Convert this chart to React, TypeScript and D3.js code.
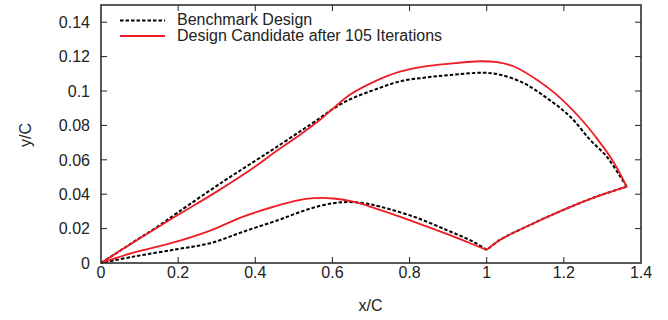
import React from "react";
import * as d3 from "d3";

const xTicks = [0, 0.2, 0.4, 0.6, 0.8, 1, 1.2, 1.4];
const yTicks = [0, 0.02, 0.04, 0.06, 0.08, 0.1, 0.12, 0.14];
const xTickLabels = ["0", "0.2", "0.4", "0.6", "0.8", "1", "1.2", "1.4"];
const yTickLabels = ["0", "0.02", "0.04", "0.06", "0.08", "0.1", "0.12", "0.14"];

const seriesNames = ["Benchmark Design", "Design Candidate after 105 Iterations"];

// Benchmark: upper surface (leading edge -> trailing edge)
const benchUpperX = [
  0, 0.05, 0.1, 0.144, 0.2, 0.317, 0.404, 0.451, 0.516, 0.568, 0.598, 0.646, 0.71, 0.775, 0.84, 0.905, 0.991,
  1.034, 1.095, 1.156, 1.216, 1.268, 1.311, 1.346, 1.363,
];
const benchUpperY = [
  0, 0.0072, 0.0145, 0.0207, 0.0295, 0.0474, 0.06, 0.0668, 0.0765, 0.0843, 0.0891, 0.0952, 0.1008, 0.1056, 0.1078, 0.1093, 0.1106,
  0.1095, 0.1047, 0.0959, 0.0852, 0.0716, 0.0619, 0.0503, 0.0444,
];
// Benchmark: rear lower surface (trailing edge -> cusp at x=1)
const benchRearX = [1.363, 1.285, 1.199, 1.112, 1.034, 1.0];
const benchRearY = [0.0444, 0.0386, 0.0309, 0.0221, 0.0134, 0.0076];
// Benchmark: front lower surface (cusp -> leading edge)
const benchFrontX = [1.0, 0.965, 0.896, 0.81, 0.723, 0.68, 0.637, 0.602, 0.551, 0.507, 0.46, 0.369, 0.283, 0.196, 0.084, 0];
const benchFrontY = [0.0076, 0.0124, 0.0192, 0.027, 0.0328, 0.0348, 0.0354, 0.0348, 0.0322, 0.0289, 0.025, 0.0182, 0.0115, 0.008, 0.0037, 0];

// Candidate after 105 iterations
const candUpperX = [
  0, 0.05, 0.1, 0.2, 0.3, 0.4, 0.451, 0.516, 0.568, 0.598, 0.646, 0.71, 0.775, 0.84, 0.905, 0.983, 1.026,
  1.069, 1.13, 1.181, 1.242, 1.285, 1.328, 1.363,
];
const candUpperY = [
  0, 0.0072, 0.0142, 0.028, 0.0415, 0.0561, 0.0645, 0.0746, 0.0833, 0.0891, 0.0979, 0.1056, 0.1112, 0.1143, 0.1159, 0.1173, 0.1168,
  0.1144, 0.1066, 0.0979, 0.0843, 0.0726, 0.059, 0.0444,
];
const candRearX = [1.363, 1.285, 1.199, 1.112, 1.034, 1.0];
const candRearY = [0.0444, 0.0386, 0.0309, 0.0221, 0.0134, 0.0076];
const candFrontX = [1.0, 0.957, 0.896, 0.81, 0.723, 0.654, 0.602, 0.551, 0.507, 0.455, 0.369, 0.283, 0.196, 0.084, 0];
const candFrontY = [0.0076, 0.0115, 0.0169, 0.0241, 0.0309, 0.0357, 0.0375, 0.0377, 0.0363, 0.0332, 0.027, 0.0188, 0.0124, 0.006, 0];

const W = 668;
const H = 320;
const left = 101;
const right = 641;
const top = 5;
const bottom = 263;
const FONT = "'Liberation Sans', Arial, Helvetica, sans-serif";
const TXT = "#222";
const FS = 16;
const RED = "#ee1c24";

const zip = (xs: number[], ys: number[]): [number, number][] => xs.map((v, i) => [v, ys[i]]);

export default function App() {
  const x = d3.scaleLinear().domain([0, 1.4]).range([left, right]);
  const y = d3.scaleLinear().domain([0, 0.15]).range([bottom, top]);
  const line = d3
    .line<[number, number]>()
    .x((d) => x(d[0]))
    .y((d) => y(d[1]))
    .curve(d3.curveCatmullRom.alpha(0.5));
  const benchPaths = [
    zip(benchUpperX, benchUpperY),
    zip(benchRearX, benchRearY),
    zip(benchFrontX, benchFrontY),
  ];
  const candPaths = [
    zip(candUpperX, candUpperY),
    zip(candRearX, candRearY),
    zip(candFrontX, candFrontY),
  ];
  const tl = 6;

  return (
    <svg
      width={W}
      height={H}
      style={{ position: "absolute", left: 0, top: 0, background: "#fff" }}
      fontFamily={FONT}
    >
      <rect x={0} y={0} width={W} height={H} fill="#fff" />
      {benchPaths.map((p, i) => (
        <path key={"b" + i} d={line(p) || ""} fill="none" stroke="#000" strokeWidth={2} strokeDasharray="3.5,2" />
      ))}
      {candPaths.map((p, i) => (
        <path key={"c" + i} d={line(p) || ""} fill="none" stroke={RED} strokeWidth={1.8} strokeLinejoin="round" />
      ))}

      {/* ticks */}
      {xTicks.map((t, i) => (
        <g key={"xt" + i}>
          {i > 0 && i < xTicks.length - 1 && (
            <>
              <line x1={x(t)} x2={x(t)} y1={bottom} y2={bottom - tl} stroke={TXT} strokeWidth={1} />
              <line x1={x(t)} x2={x(t)} y1={top} y2={top + tl} stroke={TXT} strokeWidth={1} />
            </>
          )}
          <text x={x(t)} y={277.5} textAnchor="middle" fontSize={FS} fill={TXT}>
            {xTickLabels[i]}
          </text>
        </g>
      ))}
      {yTicks.map((t, i) => (
        <g key={"yt" + i}>
          {i > 0 && (
            <>
              <line x1={left} x2={left + tl} y1={y(t)} y2={y(t)} stroke={TXT} strokeWidth={1} />
              <line x1={right} x2={right - tl} y1={y(t)} y2={y(t)} stroke={TXT} strokeWidth={1} />
            </>
          )}
          <text x={90} y={y(t) + 5.7} textAnchor="end" fontSize={FS} fill={TXT}>
            {yTickLabels[i]}
          </text>
        </g>
      ))}

      <rect
        x={left}
        y={top}
        width={right - left}
        height={bottom - top}
        fill="none"
        stroke={TXT}
        strokeWidth={1.5}
      />

      {/* axis labels */}
      <text x={370.5} y={311} textAnchor="middle" fontSize={FS} fill={TXT}>
        x/C
      </text>
      <text
        x={0}
        y={0}
        transform={`translate(31,135) rotate(-90)`}
        textAnchor="middle"
        fontSize={FS}
        fill={TXT}
      >
        y/C
      </text>

      {/* legend */}
      <line x1={120} x2={165} y1={20.5} y2={20.5} stroke="#000" strokeWidth={2} strokeDasharray="3.5,2" />
      <text x={177} y={24.7} fontSize={FS} fill={TXT}>
        {seriesNames[0]}
      </text>
      <line x1={120} x2={165} y1={36} y2={36} stroke={RED} strokeWidth={1.8} />
      <text x={177} y={41.3} fontSize={FS} fill={TXT}>
        {seriesNames[1]}
      </text>
    </svg>
  );
}
